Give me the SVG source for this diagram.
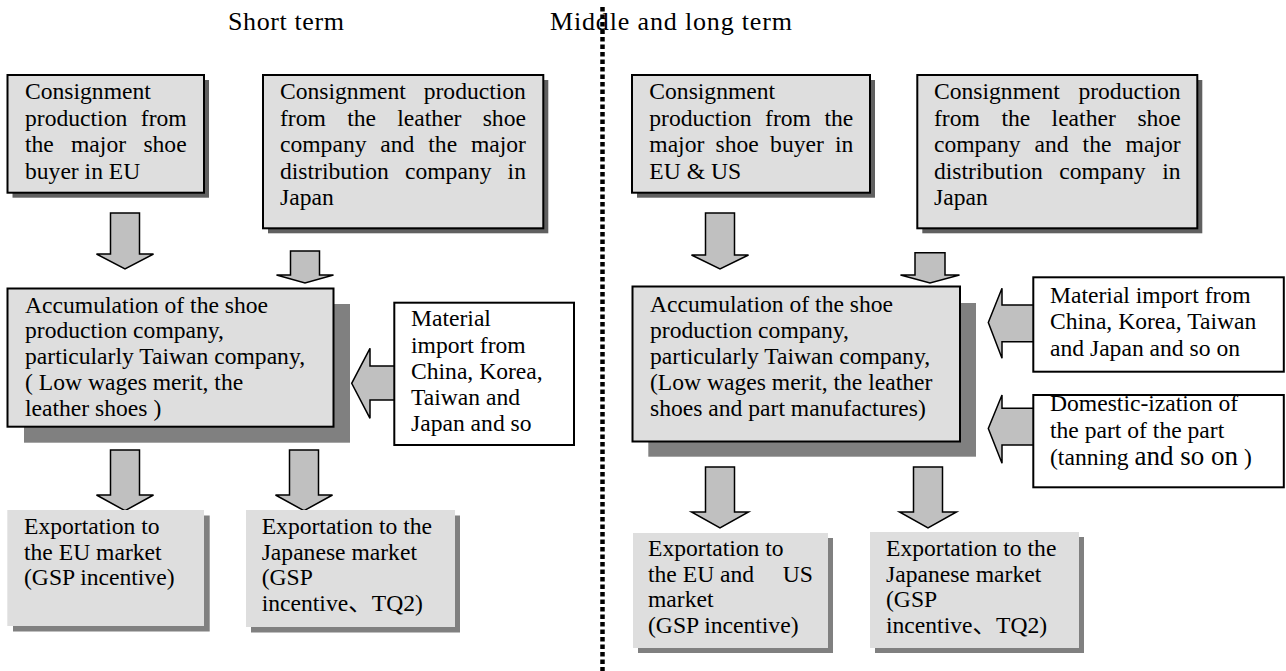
<svg xmlns="http://www.w3.org/2000/svg" width="1286" height="671" viewBox="0 0 1286 671">
<style>
.t{font-family:'Liberation Serif','Times New Roman','Noto Sans CJK JP',serif;font-size:23.6px;fill:#000}
.ttl{font-family:'Liberation Serif','Times New Roman',serif;font-size:26px;fill:#000}
.box{fill:#dedede;stroke:#000;stroke-width:2}
.wbox{fill:#fff;stroke:#000;stroke-width:2}
.pbox{fill:#dedede}
.sh1{fill:#606060}
.sh2{fill:#808080}
.arr{fill:#c0c0c0;stroke:#000;stroke-width:1.5;stroke-linejoin:miter}
.div{stroke:#000;stroke-width:4.5;stroke-dasharray:4.5 3;fill:none}
</style>
<rect width="1286" height="671" fill="#fff"/>

<text class="ttl" x="228" y="30" textLength="116" lengthAdjust="spacing">Short term</text>
<text class="ttl" x="550" y="30" textLength="242" lengthAdjust="spacing">Middle and long term</text>

<g id="connectors">
<polygon class="arr" points="110.5,213 139.5,213 139.5,254 153.5,254 125,269 96.5,254 110.5,254"/>
<polygon class="arr" points="290.5,251 319.5,251 319.5,275 333.5,275 305,283 276.5,275 290.5,275"/>
<polygon class="arr" points="705.5,213 734.5,213 734.5,255 748.5,255 720,269 691.5,255 705.5,255"/>
<polygon class="arr" points="915,252.7 945,252.7 945,275 959.5,275 930,283 900.5,275 915,275"/>
<polygon class="arr" points="396,366 370,366 370,348.3 351.7,383.3 370,418.3 370,400 396,400"/>
<polygon class="arr" points="1035,305 1002,305 1002,288.3 988.3,322.5 1002,358.3 1002,341.7 1035,341.7"/>
<polygon class="arr" points="1035,408.3 1002,408.3 1002,395 988.3,428.5 1002,463.3 1002,445 1035,445"/>
<polygon class="arr" points="110.5,450 139.5,450 139.5,495 153.5,495 125,510.7 96.5,495 110.5,495"/>
<polygon class="arr" points="289.5,450 318.5,450 318.5,495 332.5,495 304,510.7 275.5,495 289.5,495"/>
<polygon class="arr" points="705.5,467 734.5,467 734.5,512 748.5,512 720,528 691.5,512 705.5,512"/>
<polygon class="arr" points="913.5,467 942.5,467 942.5,512 956.5,512 928,528 899.5,512 913.5,512"/>
</g>

<g id="nodeA">
<rect class="sh1" x="12.5" y="80" width="196.5" height="117.7"/>
<rect class="box" x="7.5" y="75" width="196.5" height="117.7"/>
<text class="t"><tspan x="25" y="99">Consignment</tspan><tspan x="25" y="125.6">production</tspan><tspan x="140.8" y="125.6">from</tspan><tspan x="25" y="152.2">the</tspan><tspan x="71" y="152.2">major</tspan><tspan x="143.4" y="152.2">shoe</tspan><tspan x="25" y="178.8">buyer in EU</tspan></text>
</g>

<g id="nodeB">
<rect class="sh1" x="268" y="80" width="280.3" height="153.3"/>
<rect class="box" x="263" y="75" width="280.3" height="153.3"/>
<text class="t"><tspan x="280" y="99">Consignment</tspan><tspan x="423.7" y="99">production</tspan><tspan x="280" y="125.6">from</tspan><tspan x="347.2" y="125.6">the</tspan><tspan x="397.3" y="125.6">leather</tspan><tspan x="482.7" y="125.6">shoe</tspan><tspan x="280" y="152.2">company</tspan><tspan x="380.3" y="152.2">and</tspan><tspan x="428.3" y="152.2">the</tspan><tspan x="470.9" y="152.2">major</tspan><tspan x="280" y="178.8">distribution</tspan><tspan x="405" y="178.8">company</tspan><tspan x="507.6" y="178.8">in</tspan><tspan x="280" y="205.4">Japan</tspan></text>
</g>

<g id="nodeC">
<rect class="sh2" x="24" y="304" width="326" height="138.7"/>
<rect class="box" x="7.5" y="288.5" width="326" height="138.2"/>
<text class="t"><tspan x="25" y="312.5">Accumulation of the shoe</tspan><tspan x="25" y="338.3">production company,</tspan><tspan x="25" y="364">particularly Taiwan company,</tspan><tspan x="25" y="389.8">( Low wages merit, the</tspan><tspan x="25" y="415.6">leather shoes )</tspan></text>
</g>

<g id="nodeMatL">
<rect class="wbox" x="394.3" y="302.7" width="179.7" height="142.3"/>
<text class="t"><tspan x="411" y="326">Material</tspan><tspan x="411" y="352.5">import from</tspan><tspan x="411" y="378.5">China, Korea,</tspan><tspan x="411" y="404.5">Taiwan and</tspan><tspan x="411" y="431">Japan and so</tspan></text>
</g>

<g id="nodeL1">
<rect class="sh2" x="13" y="515.5" width="196.7" height="116"/>
<rect class="pbox" x="7.3" y="510" width="196.7" height="116"/>
<text class="t"><tspan x="24" y="534">Exportation to</tspan><tspan x="24" y="559.5">the EU market</tspan><tspan x="24" y="585">(GSP incentive)</tspan></text>
</g>

<g id="nodeL2">
<rect class="sh2" x="251" y="515.5" width="209" height="117"/>
<rect class="pbox" x="246" y="510" width="209" height="117"/>
<text class="t"><tspan x="261.7" y="534">Exportation to the</tspan><tspan x="261.7" y="559.5">Japanese market</tspan><tspan x="261.7" y="585">(GSP</tspan><tspan x="261.7" y="610.5">incentive、TQ2)</tspan></text>
</g>

<g id="nodeD">
<rect class="sh1" x="637" y="80" width="238" height="117.7"/>
<rect class="box" x="632" y="75" width="238" height="117.7"/>
<text class="t"><tspan x="649.3" y="99">Consignment</tspan><tspan x="649.3" y="125.6">production</tspan><tspan x="765.1" y="125.6">from</tspan><tspan x="824.5" y="125.6">the</tspan><tspan x="649.3" y="152.2">major</tspan><tspan x="715.6" y="152.2">shoe</tspan><tspan x="770.1" y="152.2">buyer</tspan><tspan x="834.9" y="152.2">in</tspan><tspan x="649.3" y="178.8">EU &amp; US</tspan></text>
</g>

<g id="nodeE">
<rect class="sh1" x="922.3" y="80" width="280" height="153.3"/>
<rect class="box" x="917.3" y="75" width="280" height="153.3"/>
<text class="t"><tspan x="934" y="99">Consignment</tspan><tspan x="1078.4" y="99">production</tspan><tspan x="934" y="125.6">from</tspan><tspan x="1001.4" y="125.6">the</tspan><tspan x="1051.6" y="125.6">leather</tspan><tspan x="1137.4" y="125.6">shoe</tspan><tspan x="934" y="152.2">company</tspan><tspan x="1034.5" y="152.2">and</tspan><tspan x="1082.6" y="152.2">the</tspan><tspan x="1125.6" y="152.2">major</tspan><tspan x="934" y="178.8">distribution</tspan><tspan x="1059.2" y="178.8">company</tspan><tspan x="1162.3" y="178.8">in</tspan><tspan x="934" y="205.4">Japan</tspan></text>
</g>

<g id="nodeF">
<rect class="sh2" x="648.3" y="303" width="327.7" height="153.7"/>
<rect class="box" x="632.5" y="286.5" width="327.5" height="155"/>
<text class="t"><tspan x="650" y="312">Accumulation of the shoe</tspan><tspan x="650" y="337.7">production company,</tspan><tspan x="650" y="364">particularly Taiwan company,</tspan><tspan x="650" y="389.5">(Low wages merit, the leather</tspan><tspan x="650" y="416">shoes and part manufactures)</tspan></text>
</g>

<g id="nodeMatR">
<rect class="wbox" x="1033.3" y="277.3" width="250.5" height="94.4"/>
<text class="t"><tspan x="1050" y="302.5">Material import from</tspan><tspan x="1050" y="329">China, Korea, Taiwan</tspan><tspan x="1050" y="355.5">and Japan and so on</tspan></text>
</g>

<g id="nodeDom">
<rect class="wbox" x="1033.3" y="395" width="250.5" height="92.3"/>
<text class="t"><tspan x="1050" y="411">Domestic-ization of</tspan><tspan x="1050" y="437.5">the part of the part</tspan><tspan x="1050" y="465">(tanning </tspan><tspan y="465" style="font-size:27px">and so on</tspan><tspan y="465"> )</tspan></text>
</g>

<g id="nodeR1">
<rect class="sh2" x="638" y="538" width="195" height="115"/>
<rect class="pbox" x="633" y="533" width="195" height="115"/>
<text class="t"><tspan x="648" y="556">Exportation to</tspan><tspan x="648" y="581.5">the EU and</tspan><tspan x="782.8" y="581.5">US</tspan><tspan x="648" y="607">market</tspan><tspan x="648" y="632.5">(GSP incentive)</tspan></text>
</g>

<g id="nodeR2">
<rect class="sh2" x="875" y="537" width="209" height="116"/>
<rect class="pbox" x="870" y="532" width="209" height="116"/>
<text class="t"><tspan x="886" y="556">Exportation to the</tspan><tspan x="886" y="581.5">Japanese market</tspan><tspan x="886" y="607">(GSP</tspan><tspan x="886" y="632.5">incentive、TQ2)</tspan></text>
</g>

<line class="div" x1="602.5" y1="7" x2="602.5" y2="671"/>
</svg>
